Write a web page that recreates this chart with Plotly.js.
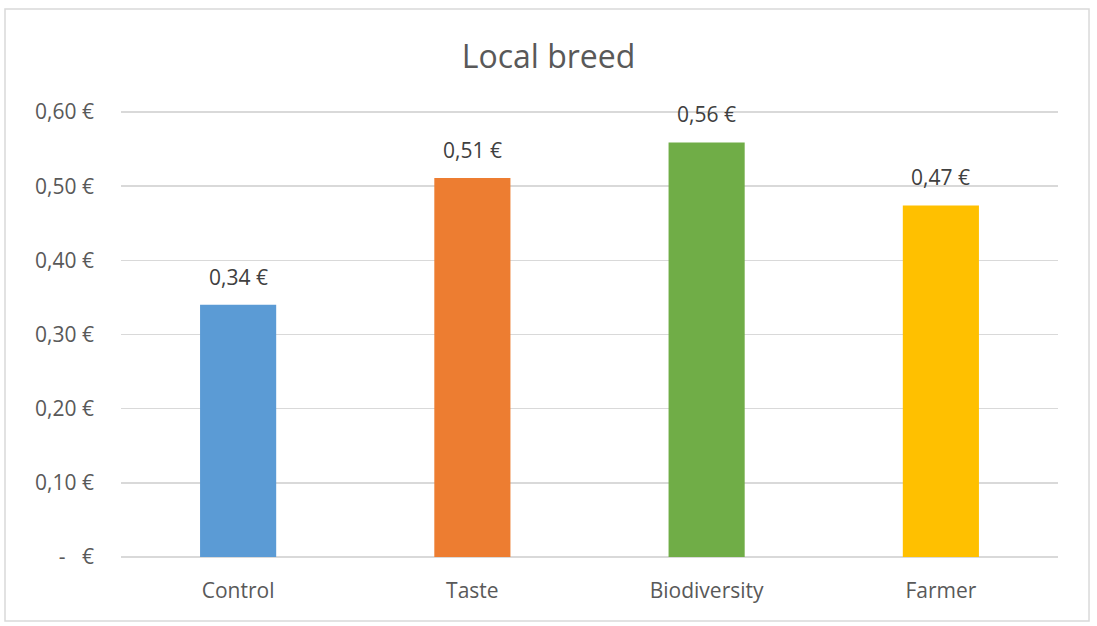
<!DOCTYPE html>
<html>
<head>
<meta charset="utf-8">
<script src="https://cdn.plot.ly/plotly-3.0.1.min.js"></script>
<style>
  html, body { margin: 0; padding: 0; background: #fff; }
  #chart { width: 1097px; height: 626px; }
</style>
</head>
<body>
<div id="chart"></div>
<script>
// Données
const categories = ['Control', 'Taste', 'Biodiversity', 'Farmer'];
const prices     = [0.34, 0.511, 0.559, 0.474];
const barColors  = ['#5B9BD5', '#ED7D31', '#70AD47', '#FFC000'];
const yTickVals  = [0, 0.1, 0.2, 0.3, 0.4, 0.5, 0.6];
const yTickText  = ['-   €', '0,10 €', '0,20 €', '0,30 €', '0,40 €', '0,50 €', '0,60 €'];

const FONT = 'Open Sans, Lato, sans-serif';

// Étiquettes de valeur au-dessus des barres
const labels = categories.map((c, i) => ({
  x: c, y: prices[i], xref: 'x', yref: 'y',
  text: prices[i].toFixed(2).replace('.', ',') + ' €',
  showarrow: false, yanchor: 'bottom', yshift: 12,
  font: { family: FONT, size: 21, color: '#404040' },
}));

Plotly.newPlot('chart', [{
  x: categories,
  y: prices,
  type: 'bar',
  marker: { color: barColors },
  hoverinfo: 'skip',
}], {
  width: 1097, height: 626,
  paper_bgcolor: '#fff', plot_bgcolor: '#fff',
  separators: ', ',
  margin: { t: 111, b: 69, l: 121, r: 39 },
  bargap: 0.675,
  showlegend: false,
  title: {
    text: 'Local breed',
    font: { family: FONT, size: 32, color: '#595959' },
    x: 0.5, xanchor: 'center',
    y: 1 - 57 / 626, yref: 'container', yanchor: 'middle',
  },
  xaxis: {
    showgrid: false, showline: false, ticks: '',
    tickfont: { family: FONT, size: 21, color: '#595959' },
    ticklabelstandoff: 19,
  },
  yaxis: {
    range: [0, 0.6014],
    tickvals: yTickVals, ticktext: yTickText,
    showgrid: true, gridcolor: '#d9d9d9', gridwidth: 1.5,
    zeroline: true, zerolinecolor: '#d9d9d9', zerolinewidth: 1.5,
    showline: false, ticks: '',
    tickfont: { family: FONT, size: 21, color: '#595959' },
    ticklabelstandoff: 26,
  },
  annotations: labels,
  shapes: [{
    type: 'rect', xref: 'paper', yref: 'paper',
    x0: -0.1238, x1: 1.0331, y0: -0.1434, y1: 1.2287,
    line: { color: '#d9d9d9', width: 1.5 }, fillcolor: 'rgba(0,0,0,0)',
  }],
}, { displayModeBar: false, staticPlot: true });
</script>
</body>
</html>
